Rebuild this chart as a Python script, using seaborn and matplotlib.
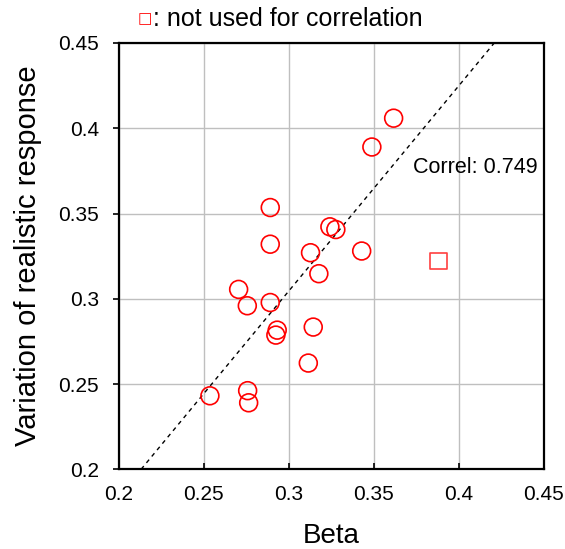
import numpy as np
import pandas as pd
import matplotlib
matplotlib.use("Agg")
import matplotlib.pyplot as plt
import seaborn as sns

# ---- data ----
beta_used = [0.3618, 0.3490, 0.2892, 0.2892, 0.3243, 0.3278, 0.3129, 0.3430, 0.3178,
             0.2706, 0.2757, 0.2892, 0.2933, 0.2925, 0.3145, 0.3116, 0.2537, 0.2759, 0.2765]
resp_used = [0.4059, 0.3890, 0.3535, 0.3320, 0.3422, 0.3406, 0.3270, 0.3280, 0.3147,
             0.3055, 0.2959, 0.2978, 0.2816, 0.2787, 0.2834, 0.2623, 0.2431, 0.2461, 0.2390]
beta_excluded = [0.3882]
resp_excluded = [0.3219]
x_ticks = [0.2, 0.25, 0.3, 0.35, 0.4, 0.45]
x_tick_labels = ["0.2", "0.25", "0.3", "0.35", "0.4", "0.45"]
y_ticks = [0.2, 0.25, 0.3, 0.35, 0.4, 0.45]
y_tick_labels = ["0.2", "0.25", "0.3", "0.35", "0.4", "0.45"]
correl_text = "Correl: 0.749"
legend_text = ": not used for correlation"

sns.set_theme(style="white")
plt.rcParams['font.family'] = ['Liberation Sans', 'DejaVu Sans']

fig = plt.figure(figsize=(5.65, 5.49), dpi=100)
ax = fig.add_axes([0.210, 0.1452, 0.752, 0.7765])

used = pd.DataFrame({"beta": beta_used, "resp": resp_used})
excl = pd.DataFrame({"beta": beta_excluded, "resp": resp_excluded})

ax.grid(True, color="#BFBFBF", linewidth=1.0, zorder=0)
ax.set_axisbelow(True)

sns.scatterplot(data=used, x="beta", y="resp", ax=ax, marker="o", s=165,
                facecolor="none", edgecolor="#FF0000", linewidth=1.2, zorder=3)
sns.scatterplot(data=excl, x="beta", y="resp", ax=ax, marker="s", s=135,
                facecolor="none", edgecolor="#FF4040", linewidth=1.2, zorder=3)

# regression trend line (least squares of used points)
slope, intercept = np.polyfit(used["beta"], used["resp"], 1)
ax.axline((0.3, intercept + slope * 0.3), slope=slope, color="black",
          linestyle=(0, (3, 3)), linewidth=1.0, zorder=2)

ax.set_xlim(0.2, 0.45)
ax.set_ylim(0.2, 0.45)
ax.set_xticks(x_ticks)
ax.set_xticklabels(x_tick_labels)
ax.set_yticks(y_ticks)
ax.set_yticklabels(y_tick_labels)
ax.tick_params(axis="x", direction="in", length=4, width=1.2, colors="black",
               labelsize=15, pad=11, labelcolor="#000000")
ax.tick_params(axis="y", direction="out", length=4, width=1.2, colors="black",
               labelsize=15, pad=10, labelcolor="#000000")
ax.tick_params(axis="x", bottom=True)
ax.tick_params(axis="y", left=True)

for sp in ax.spines.values():
    sp.set_visible(True)
    sp.set_color("black")
    sp.set_linewidth(1.6)

ax.set_xlabel("Beta", fontsize=20, labelpad=14, color="black")
ax.set_ylabel("Variation of realistic response", fontsize=21, labelpad=12, color="black")

ax.text(0.3733, 0.3767, correl_text, fontsize=15.5, color="black", ha="left", va="center")

fig.text(0.244, 0.966, "\u25A1", fontsize=11, color="#FF0000", ha="left", va="center",
         family=['DejaVu Sans'])
fig.text(0.271, 0.965, legend_text, fontsize=18, color="black", ha="left", va="center")

fig.savefig("out.png", dpi=100)
